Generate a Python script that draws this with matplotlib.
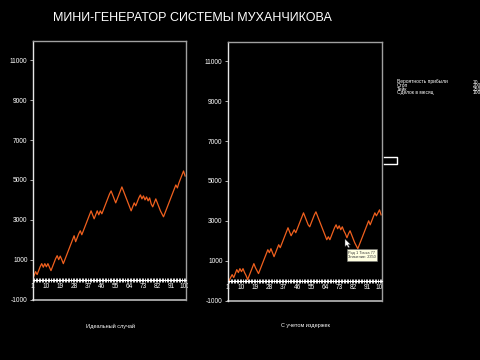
import matplotlib
matplotlib.use("Agg")
import matplotlib.pyplot as plt
from matplotlib.transforms import Bbox, TransformedBbox
from matplotlib.lines import Line2D
from matplotlib.patches import Polygon

plt.rcParams['font.family'] = ['Liberation Sans', 'DejaVu Sans']

# data
trades = list(range(1, 101))
ideal = [0, 200, 400, 250, 450, 650, 800, 620, 800, 640,
         800, 620, 450, 650, 850, 1050, 1200, 1000, 1180, 1000,
         800, 1000, 1200, 1400, 1600, 1800, 2000, 2200, 1900, 2100,
         2300, 2450, 2250, 2450, 2650, 2850, 3050, 3250, 3450, 3250,
         3050, 3250, 3450, 3250, 3450, 3300, 3500, 3700, 3900, 4100,
         4300, 4450, 4250, 4050, 3850, 4050, 4250, 4450, 4650, 4450,
         4250, 4050, 3850, 3650, 3450, 3650, 3850, 3700, 3900, 4100,
         4250, 4050, 4200, 4000, 4150, 3950, 4100, 3800, 3650, 3850,
         4050, 3850, 3650, 3450, 3300, 3150, 3350, 3550, 3750, 3950,
         4150, 4350, 4550, 4750, 4600, 4850, 5050, 5250, 5450, 5200]
with_costs = [-200, 0, 150, 300, 150, 350, 550, 400, 600, 450,
              600, 400, 250, 50, 250, 450, 650, 850, 650, 500,
              350, 550, 750, 950, 1150, 1350, 1550, 1400, 1600, 1400,
              1200, 1400, 1600, 1800, 1650, 1850, 2050, 2250, 2450, 2650,
              2450, 2250, 2400, 2550, 2400, 2600, 2800, 3000, 3200, 3400,
              3200, 3000, 2800, 2700, 2900, 3100, 3300, 3450, 3250, 3050,
              2850, 2650, 2450, 2250, 2050, 2200, 2050, 2250, 2450, 2650,
              2800, 2600, 2750, 2550, 2700, 2500, 2350, 2150, 2350, 2500,
              2300, 2100, 1900, 1750, 1600, 1800, 2000, 2200, 2400, 2600,
              2800, 3000, 2800, 3000, 3200, 3400, 3250, 3400, 3550, 3300]
yticks = [-1000, 1000, 3000, 5000, 7000, 9000, 11000]
xticks = [1, 10, 19, 28, 37, 46, 55, 64, 73, 82, 91, 100]
chart_titles = ['Идеальный случай', 'С учетом издержек']
param_names = ['Вероятность прибыли', 'Стоп', 'Тейк', 'Сделок в месяц']
param_values = ['70', '200', '250', '100']

W, H = 480, 360
fig = plt.figure(figsize=(4.8, 3.6), dpi=100, facecolor='black')


def fx(px):
    return px / W


def fy(py):
    return 1 - py / H


def draw_chart(rect, values, clip_right):
    ax = fig.add_axes(rect)
    ax.set_facecolor('black')
    ax.plot(trades, values, color='#F0601E', lw=0.9)
    ax.set_xlim(1, 100.6)
    ax.set_ylim(-1000, 12000)
    ax.set_yticks(yticks)
    ax.set_yticklabels([str(v) for v in yticks])
    ax.set_xticks(xticks)
    ax.set_xticklabels([str(v) for v in xticks])
    ax.set_xticks(trades, minor=True)
    ax.spines['bottom'].set_position(('data', 0))
    ax.spines['bottom'].set_color('white')
    ax.spines['bottom'].set_linewidth(0.8)
    ax.spines['left'].set_color('#E6E6E6')
    ax.spines['left'].set_linewidth(1.0)
    for s in ['top', 'right']:
        ax.spines[s].set_color('#A0A0A0')
        ax.spines[s].set_linewidth(1.0)
    ax.axhline(-1000, color='#BBBBBB', lw=1.2, clip_on=False)
    ax.tick_params(axis='x', which='both', direction='inout', length=2.5,
                   width=0.6, colors='white', labelsize=4.7, pad=1.2)
    ax.tick_params(axis='y', direction='out', length=2, width=0.6,
                   colors='#CCCCCC', labelcolor='white', labelsize=4.8, pad=1.5)
    clip = TransformedBbox(Bbox([[0, 0], [fx(clip_right), 1]]), fig.transFigure)
    for t in ax.get_xticklabels():
        t.set_clip_on(True)
        t.set_clip_box(clip)
    return ax


draw_chart([fx(32.5), fy(299.5), fx(153.5), 259 / H], ideal, 188)
draw_chart([fx(227.5), fy(300.5), fx(154.5), 259 / H], with_costs, 383)

fig.text(fx(53), fy(18), 'МИНИ-ГЕНЕРАТОР СИСТЕМЫ МУХАНЧИКОВА',
         color='white', fontsize=9, va='center', ha='left')

for xc, label in zip([110, 305], chart_titles):
    fig.text(fx(xc), fy(326), label, color='white', fontsize=4,
             ha='center', va='center')

# parameter block on the right
for i, (name, val) in enumerate(zip(param_names, param_values)):
    yy = 82 + i * 3.6
    fig.text(fx(397), fy(yy), name, color='white', fontsize=3.5, va='center')
    fig.text(fx(473), fy(yy), val, color='white', fontsize=3.5, va='center')

# tooltip over the second chart
fig.text(fx(348), fy(255), 'Ряд 1 Точка 77\nЗначение: 2350', color='#333333',
         fontsize=2.8, va='center', ha='left', linespacing=1.3,
         bbox=dict(boxstyle='square,pad=0.35', fc='#FFFFE1', ec='#777777', lw=0.4))

# mouse pointer
pointer = [(345, 239), (345, 246.5), (346.8, 245), (348.3, 247.8),
           (349.5, 247.2), (348.2, 244.5), (350.5, 244.5)]
fig.add_artist(Polygon([(fx(a), fy(b)) for a, b in pointer], closed=True,
                       fc='white', ec='#444444', lw=0.3, transform=fig.transFigure))

# small bracket mark right of the second chart
fig.add_artist(Line2D([fx(384), fx(397), fx(397), fx(384)],
                      [fy(157.3), fy(157.3), fy(164.3), fy(164.3)],
                      color='white', lw=1.0, transform=fig.transFigure))

fig.savefig('out.png', dpi=100, facecolor='black')
